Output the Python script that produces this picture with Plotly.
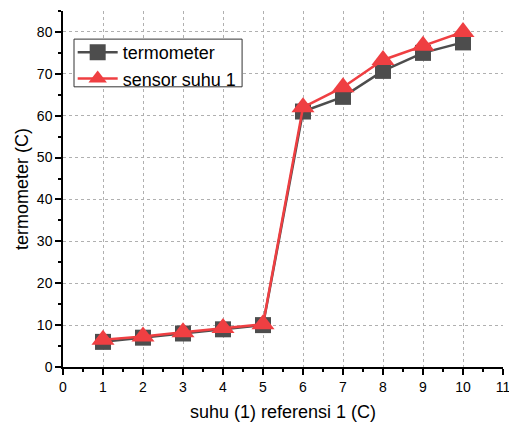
import plotly.graph_objects as go

x_vals = [1, 2, 3, 4, 5, 6, 7, 8, 9, 10]
termometer = [6.0, 7.0, 8.0, 9.0, 10.0, 61.0, 64.5, 70.7, 75.0, 77.5]
sensor_suhu_1 = [6.5, 7.3, 8.3, 9.3, 10.2, 62.0, 66.8, 73.3, 76.7, 80.0]
x_ticks = list(range(0, 12))
y_ticks = list(range(0, 90, 10))

GRAY = "#4d4d4d"
RED = "#ef3f42"
FONT = "Liberation Sans, Arial, sans-serif"

fig = go.Figure()
fig.add_trace(go.Scatter(
    x=x_vals, y=termometer, name="termometer", mode="lines+markers",
    line=dict(color=GRAY, width=2.5),
    marker=dict(symbol="square", size=16, color=GRAY),
))
fig.add_trace(go.Scatter(
    x=x_vals, y=sensor_suhu_1, name="sensor suhu 1", mode="lines+markers",
    line=dict(color=RED, width=2.5),
    marker=dict(symbol="triangle-up", size=20, color=RED),
))

axis_common = dict(
    showline=True, linecolor="#000", linewidth=1.5,
    ticks="outside", ticklen=6, tickwidth=1.5, tickcolor="#000",
    showgrid=True, gridcolor="#b0b0b0", griddash="dot", gridwidth=1,
    zeroline=False, tickfont=dict(size=14, color="#000", family=FONT),
    mirror=False, automargin=False, ticklabeloverflow="allow",
)

fig.update_xaxes(
    range=[0, 11], tickmode="array", tickvals=x_ticks,
    ticktext=[str(v) for v in x_ticks],
    title=dict(text="suhu (1) referensi 1 (C)", font=dict(size=18, color="#000", family=FONT), standoff=12),
    minor=dict(ticks="outside", ticklen=3, tickwidth=1.5, tickcolor="#000", dtick=0.5, showgrid=False),
    **axis_common,
)
fig.update_yaxes(
    range=[0, 85], tickmode="array", tickvals=y_ticks,
    ticktext=[str(v) for v in y_ticks],
    title=dict(text="termometer (C)", font=dict(size=18, color="#000", family=FONT), standoff=4),
    minor=dict(ticks="outside", ticklen=3, tickwidth=1.5, tickcolor="#000", dtick=5, showgrid=False),
    **axis_common,
)

# legend frame (drawn as a shape so its size matches the compact original box)
fig.add_shape(
    type="rect", xref="paper", yref="paper",
    x0=0.025, x1=0.407, y0=0.787, y1=0.921,
    line=dict(color="#333", width=1), fillcolor="#fff", layer="above",
)

fig.update_layout(
    width=509, height=423,
    margin=dict(l=63, r=6, t=11, b=56),
    plot_bgcolor="#fff", paper_bgcolor="#fff",
    font=dict(family=FONT, color="#000"),
    showlegend=True,
    legend=dict(
        x=0.022, y=0.9356, xanchor="left", yanchor="top",
        bgcolor="rgba(0,0,0,0)", borderwidth=0,
        font=dict(size=18, family=FONT, color="#000"),
        tracegroupgap=0, itemsizing="trace", itemwidth=40,
    ),
)

fig.write_html("out.html", config={"displayModeBar": False})

with open("out.html", "r", encoding="utf-8") as f:
    html = f.read()
html = html.replace("<head>", "<head><style>html,body{margin:0;padding:0;overflow:hidden;}</style>", 1)
with open("out.html", "w", encoding="utf-8") as f:
    f.write(html)
